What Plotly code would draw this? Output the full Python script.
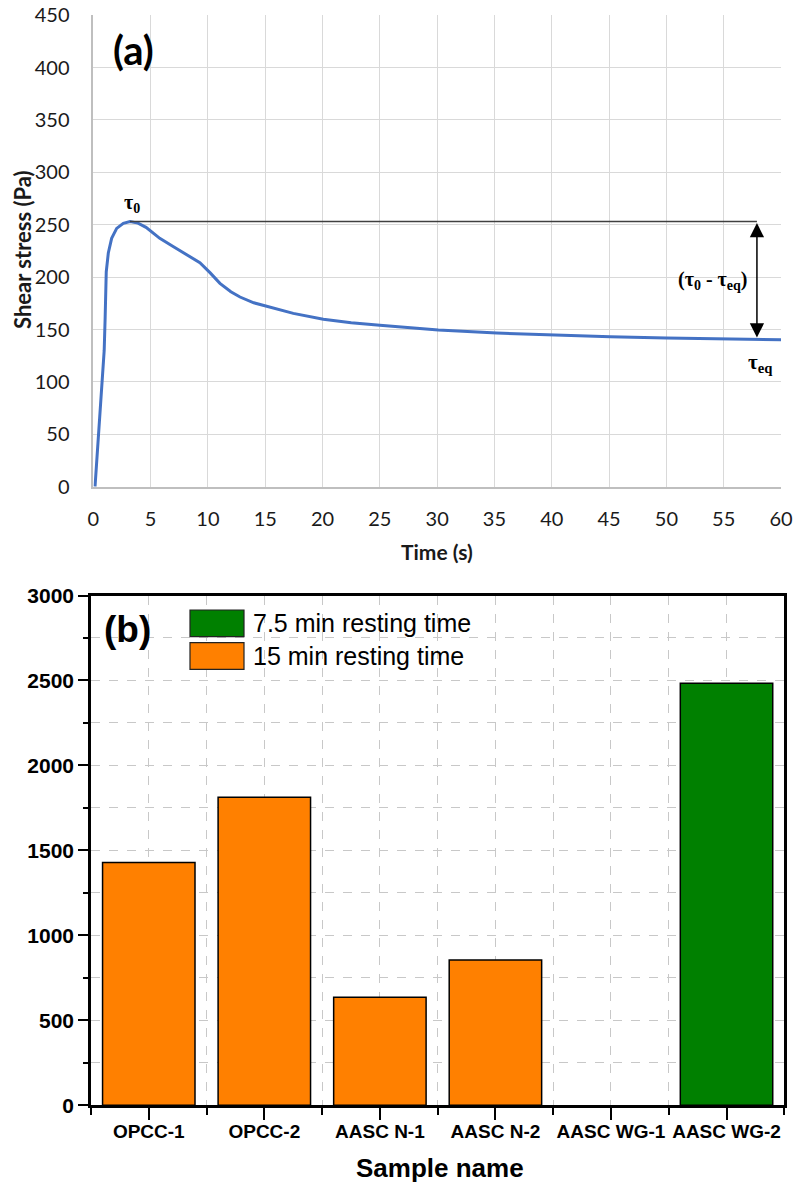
import plotly.graph_objects as go

W, H = 795, 1187

# ---------------- data: panel (a) ----------------
time_s = [0.15, 0.47, 0.82, 0.95, 1.03, 1.08, 1.13, 1.31, 1.6, 2.04, 2.62, 3.2, 3.9, 4.6,
          5.8, 7.0, 8.4, 9.3, 10.2, 11.05, 12.0, 12.8, 14.0, 15.0, 17.45, 20.07, 22.5,
          25.0, 30.1, 35.2, 40.1, 45.1, 50.0, 55.1, 60.0]
shear_stress = [0, 50, 100, 130, 160, 185, 205, 223, 237, 246.5, 251.3, 253, 251.5, 247.5,
                237, 229, 220, 213.7, 204, 194, 186, 181, 175.5, 172.4, 165.4, 159.7, 156.5,
                154, 149.5, 146.6, 144.7, 143.1, 141.9, 140.9, 140.3]
x_ticks_a = list(range(0, 61, 5))
y_ticks_a = list(range(0, 451, 50))

# ---------------- data: panel (b) ----------------
samples = ["OPCC-1", "OPCC-2", "AASC N-1", "AASC N-2", "AASC WG-1", "AASC WG-2"]
values_b = [1429, 1812, 636, 854, None, 2484]
resting = ["15 min", "15 min", "15 min", "15 min", None, "7.5 min"]
groups = ["7.5 min", "15 min"]
group_labels = {"7.5 min": "7.5 min resting time", "15 min": "15 min resting time"}
group_colors = {"7.5 min": "#008000", "15 min": "#FF8000"}
y_ticks_b = list(range(0, 3001, 500))


def px(x, y):
    return x / W, 1 - y / H


fig = go.Figure()

# ---- panel (a) curve ----
fig.add_trace(go.Scatter(x=time_s, y=shear_stress, mode="lines",
                         line=dict(color="#4472C4", width=3),
                         xaxis="x", yaxis="y", showlegend=False, hoverinfo="skip"))

tau0 = max(shear_stress)
t_peak = time_s[shear_stress.index(tau0)]
tau_eq = shear_stress[-1]
x_arrow = 57.9

fig.add_shape(type="line", xref="x", yref="y", x0=t_peak, x1=x_arrow, y0=tau0, y1=tau0,
              line=dict(color="#404040", width=1.5))
fig.add_annotation(xref="x", yref="y", axref="x", ayref="y", x=x_arrow, y=tau_eq + 2,
                   ax=x_arrow, ay=tau0, showarrow=True, arrowhead=2, arrowside="end+start",
                   arrowsize=1.9, arrowwidth=1.5, arrowcolor="black", text="")
serif = "Liberation Serif, Times New Roman, serif"
fig.add_annotation(xref="x", yref="y", x=3.35, y=270, showarrow=False,
                   xanchor="center", yanchor="middle",
                   text="<b>τ<sub>0</sub></b>", font=dict(family=serif, size=20, color="black"))
fig.add_annotation(xref="x", yref="y", x=54.0, y=197, showarrow=False,
                   xanchor="center", yanchor="middle",
                   text="<b>(τ<sub>0</sub> - τ<sub>eq</sub>)</b>",
                   font=dict(family=serif, size=20, color="black"))
fig.add_annotation(xref="x", yref="y", x=58.2, y=118, showarrow=False,
                   xanchor="center", yanchor="middle",
                   text="<b>τ<sub>eq</sub></b>", font=dict(family=serif, size=21, color="black"))

# ---- panel (b) bars ----
for g in groups:
    xs = [i for i, r in enumerate(resting) if r == g]
    ys = [values_b[i] for i in xs]
    fig.add_trace(go.Bar(x=xs, y=ys, width=0.8, name=group_labels[g],
                         marker=dict(color=group_colors[g], line=dict(color="black", width=1.5)),
                         xaxis="x2", yaxis="y2", showlegend=False))

# manual legend (large swatches as in the reference)
leg_rows = [(610, 636.7), (642.7, 669.3)]
for g, (yt, yb) in zip(groups, leg_rows):
    x0, y0 = px(190, yb)
    x1, y1 = px(244, yt)
    fig.add_shape(type="rect", xref="paper", yref="paper", x0=x0, x1=x1, y0=y0, y1=y1,
                  fillcolor=group_colors[g], line=dict(color="#222222", width=1.2))
    tx, ty = px(251, (yt + yb) / 2)
    fig.add_annotation(xref="paper", yref="paper", x=tx, y=ty, xanchor="left", yanchor="middle",
                       showarrow=False, text=group_labels[g],
                       font=dict(family="Liberation Sans, Arial, sans-serif", size=25, color="black"))

calibri = "Lato, Carlito, Calibri, sans-serif"
arial = "Liberation Sans, Arial, sans-serif"


def label(xp, yp, text, font, angle=0):
    x, y = px(xp, yp)
    fig.add_annotation(xref="paper", yref="paper", x=x, y=y, xanchor="center", yanchor="middle",
                       showarrow=False, text=text, textangle=angle, font=font)


label(133, 50, "<b>(a)</b>", dict(family=calibri, size=40, color="black"))
label(127.5, 629, "<b>(b)</b>", dict(family=arial, size=37, color="black"))
label(437, 551, "<b>Time (s)</b>", dict(family=calibri, size=21, color="#1a1a1a"))
label(23, 250, "<b>Shear stress (Pa)</b>", dict(family=calibri, size=22, color="#1a1a1a"), angle=-90)
label(440, 1168, "<b>Sample name</b>", dict(family=arial, size=26, color="black"))

grid_b = dict(showgrid=True, gridcolor="#c8c8c8", gridwidth=1, griddash="dash")

fig.update_layout(
    width=W, height=H, margin=dict(l=0, r=0, t=0, b=0, autoexpand=False),
    paper_bgcolor="white", plot_bgcolor="white",
    bargap=0.2,
    xaxis=dict(domain=[93.3 / W, 781 / W], anchor="y", range=[0, 60], tickvals=x_ticks_a,
               automargin=False,
               showgrid=True, gridcolor="#d9d9d9", gridwidth=1, zeroline=False,
               showline=True, linecolor="#bfbfbf", linewidth=1.5, ticks="",
               ticklabelstandoff=14,
               tickfont=dict(family=calibri, size=20, color="#1a1a1a")),
    yaxis=dict(domain=[1 - 486.7 / H, 1 - 15.1 / H], anchor="x", range=[0, 450], tickvals=y_ticks_a,
               automargin=False,
               showgrid=True, gridcolor="#d9d9d9", gridwidth=1, zeroline=False,
               showline=True, linecolor="#bfbfbf", linewidth=1.5, ticks="",
               ticklabelstandoff=18,
               tickfont=dict(family=calibri, size=20, color="#1a1a1a")),
    xaxis2=dict(domain=[91 / W, 784.3 / W], anchor="y2", range=[-0.5, 5.5],
                automargin=False,
                tickmode="array", tickvals=list(range(len(samples))), ticktext=samples,
                ticks="outside", ticklen=12, tickwidth=2, tickcolor="black",
                ticklabelstandoff=-5,
                showline=True, linecolor="black", linewidth=2.5, mirror=True, zeroline=False,
                minor=dict(tick0=-0.5, dtick=1, ticks="outside", ticklen=7, tickwidth=2,
                           tickcolor="black", **grid_b),
                tickfont=dict(family=arial, size=19, color="black", weight="bold"),
                **grid_b),
    yaxis2=dict(domain=[1 - 1105.2 / H, 1 - 595.5 / H], anchor="x2", range=[0, 3000],
                automargin=False,
                tickvals=y_ticks_b,
                ticks="outside", ticklen=10, tickwidth=2, tickcolor="black",
                showline=True, linecolor="black", linewidth=2.5, mirror=True, zeroline=False,
                minor=dict(dtick=250, ticks="outside", ticklen=5, tickwidth=2,
                           tickcolor="black", **grid_b),
                tickfont=dict(family=arial, size=21, color="black", weight="bold"),
                **grid_b),
)

fig.write_html("out.html")
